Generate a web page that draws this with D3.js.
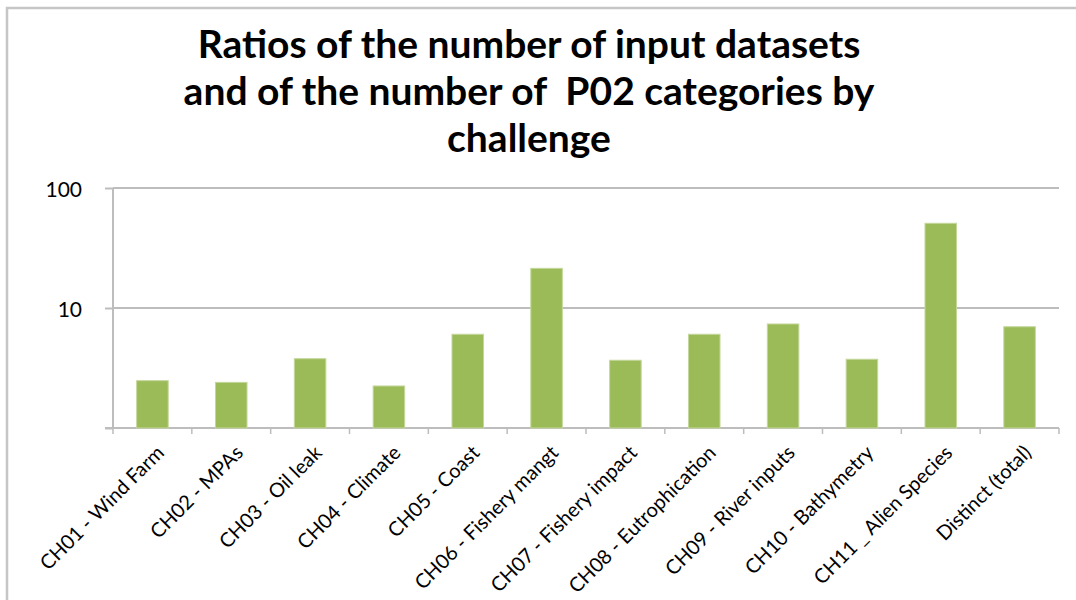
<!DOCTYPE html>
<html>
<head>
<meta charset="utf-8">
<script src="https://cdn.jsdelivr.net/npm/d3@7"></script>
<style>
  html, body { margin: 0; padding: 0; background: #fff; }
  svg { display: block; }
  text { font-family: Lato, "Open Sans", sans-serif; fill: #000; }
</style>
</head>
<body>
<svg id="chart" width="1076" height="600"></svg>
<script>
  'use strict';

  var categories = [
    'CH01 - Wind Farm', 'CH02 - MPAs', 'CH03 - Oil leak', 'CH04 - Climate',
    'CH05 - Coast', 'CH06 - Fishery mangt', 'CH07 - Fishery impact',
    'CH08 - Eutrophication', 'CH09 - River inputs', 'CH10 - Bathymetry',
    'CH11 _ Alien Species', 'Distinct (total)'
  ];
  var ratios = [2.48, 2.4, 3.78, 2.24, 6.04, 21.4, 3.67, 6.04, 7.36, 3.74, 50.8, 6.98];
  var yTicks = [1, 10, 100];
  var yTickLabels = ['', '10', '100'];
  var titleLines = [
    'Ratios of the number of input datasets',
    'and of the number of  P02 categories by',
    'challenge'
  ];

  var svg = d3.select('#chart');
  var plotLeft = 113, plotRight = 1059, plotTop = 188, plotBottom = 428;

  var x = d3.scaleBand()
    .domain(categories)
    .range([plotLeft, plotRight])
    .paddingInner(0.6)
    .paddingOuter(0.3);
  var y = d3.scaleLog()
    .domain([1, 100])
    .range([plotBottom, plotTop]);

  // frame of the chart area (only top and left edges show in the picture)
  svg.append('path')
    .attr('d', 'M7,600V8H1076')
    .attr('fill', 'none')
    .attr('stroke', '#c6c6c6')
    .attr('stroke-width', 2.5);

  // title
  svg.append('g')
    .selectAll('text')
    .data(titleLines)
    .enter()
    .append('text')
    .attr('x', 529)
    .attr('y', function(d, i) { return 58 + i * 47; })
    .attr('text-anchor', 'middle')
    .style('white-space', 'pre')
    .attr('font-size', 39)
    .attr('font-weight', 'bold')
    .text(function(d) { return d; });

  // gridlines
  svg.append('g')
    .selectAll('line')
    .data(yTicks.slice(1))
    .enter()
    .append('line')
    .attr('x1', plotLeft)
    .attr('x2', plotRight)
    .attr('y1', function(d) { return y(d); })
    .attr('y2', function(d) { return y(d); })
    .attr('stroke', '#bdbdbd')
    .attr('stroke-width', 2);

  // y axis
  var yAxis = d3.axisLeft(y)
    .tickValues(yTicks)
    .tickFormat(function(d, i) { return yTickLabels[i]; })
    .tickSize(8)
    .tickPadding(23);
  var gy = svg.append('g')
    .attr('transform', 'translate(' + plotLeft + ',0)')
    .call(yAxis);
  gy.select('.domain').remove();
  gy.append('line')
    .attr('x1', 0).attr('x2', 0)
    .attr('y1', plotTop).attr('y2', plotBottom)
    .attr('stroke', '#bdbdbd')
    .attr('stroke-width', 2);
  gy.selectAll('.tick line').attr('stroke', '#bdbdbd').attr('stroke-width', 2);
  gy.selectAll('.tick text')
    .attr('font-size', 21)
    .attr('font-family', 'Lato, sans-serif')
    .attr('dy', '0.4em')
    .attr('fill', '#000');

  // x axis: baseline and boundary ticks
  var gx = svg.append('g');
  gx.append('line')
    .attr('x1', plotLeft - 8).attr('x2', plotRight)
    .attr('y1', plotBottom).attr('y2', plotBottom)
    .attr('stroke', '#bdbdbd')
    .attr('stroke-width', 2);
  var step = x.step();
  var firstBound = x(categories[0]) - (step - x.bandwidth()) / 2;
  gx.selectAll('line.bound')
    .data(d3.range(categories.length + 1))
    .enter()
    .append('line')
    .attr('class', 'bound')
    .attr('x1', function(i) { return firstBound + i * step; })
    .attr('x2', function(i) { return firstBound + i * step; })
    .attr('y1', plotBottom)
    .attr('y2', plotBottom + 6)
    .attr('stroke', '#bdbdbd')
    .attr('stroke-width', 1.5);

  gx.selectAll('text')
    .data(categories)
    .enter()
    .append('text')
    .attr('text-anchor', 'end')
    .attr('font-size', 20)
    .attr('transform', function(d) {
      var cx = x(d) + x.bandwidth() / 2;
      return 'translate(' + (cx + 13) + ',' + (plotBottom + 26) + ') rotate(-45)';
    })
    .text(function(d) { return d; });

  // bars
  svg.append('g')
    .selectAll('rect')
    .data(ratios)
    .enter()
    .append('rect')
    .attr('x', function(d, i) { return x(categories[i]); })
    .attr('width', x.bandwidth())
    .attr('y', function(d) { return y(d); })
    .attr('height', function(d) { return plotBottom - y(d); })
    .attr('fill', '#9bbb59')
    .attr('stroke', '#c4d79b')
    .attr('stroke-width', 1);
</script>
</body>
</html>
